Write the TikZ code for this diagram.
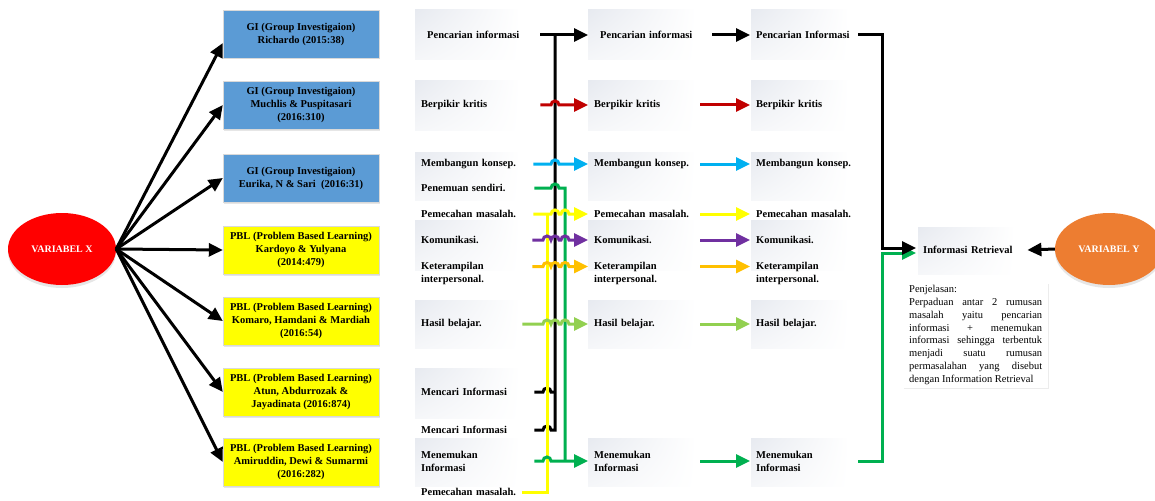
\documentclass[tikz,border=0pt]{standalone}
\usepackage{fontspec}
\setmainfont{Liberation Serif}
\usepackage{xcolor}
\usetikzlibrary{arrows.meta,shapes.geometric,shadows,shadings}
\definecolor{giblue}{HTML}{5B9BD5}
\definecolor{pblyellow}{HTML}{FFFF00}
\definecolor{varred}{HTML}{FF0000}
\definecolor{varorange}{HTML}{ED7D31}
\definecolor{lnred}{HTML}{C00000}
\definecolor{lncyan}{HTML}{00B0F0}
\definecolor{lngreen}{HTML}{00B050}
\definecolor{lnyellow}{HTML}{FFFF00}
\definecolor{lnpurple}{HTML}{7030A0}
\definecolor{lnorange}{HTML}{FFC000}
\definecolor{lnlime}{HTML}{92D050}
\definecolor{panel}{HTML}{E7EAF0}
\newcommand{\hop}{arc[start angle=180,end angle=0,radius=4pt]}

\begin{document}
\begin{tikzpicture}[x=1pt,y=-1pt]
\tikzset{every node/.style={font=\fontsize{10.5}{13}\selectfont\bfseries}}
\tikzset{var/.style={ellipse,minimum width=108pt,minimum height=72pt,text=white,font=\fontsize{10}{12}\selectfont\bfseries,drop shadow={opacity=0.2,shadow xshift=0pt,shadow yshift=-3pt}}}
\tikzset{study/.style={draw=gray!30,minimum width=156pt,minimum height=48pt,inner sep=1pt,align=center,drop shadow={opacity=0.2,shadow xshift=1pt,shadow yshift=-1.5pt}}}
\tikzset{item/.style={anchor=west,inner xsep=6pt,inner ysep=1pt,align=left,text width=#1},item/.default=96pt}
\tikzset{wire/.style={line width=3pt}}
\tikzset{link/.style={wire,-{Triangle[length=14pt,width=13pt]}}}
\tikzset{pane/.style={upper left=panel,lower left=panel!40,upper right=white,lower right=white}}

\useasboundingbox (0,0) rectangle (1155,500);

\foreach \xa/\xb in {415/520,588/696,751/849}
  \foreach \ya/\yb in {10/60,81/130,152/200,220/270,300/348,438/486}
    \shade[pane] (\xa,\ya) rectangle (\xb,\yb);
\shade[pane] (415,368) rectangle (520,418);
\shade[pane] (918,227) rectangle (1015,274);

\node[var,fill=varred] (vx) at (62,249) {VARIABEL X};
\node[study,fill=giblue] (gi1) at (301,34) {GI (Group Investigaion)\\Richardo (2015:38)};
\node[study,fill=giblue] (gi2) at (301,105) {GI (Group Investigaion)\\Muchlis \& Puspitasari\\(2016:310)};
\node[study,fill=giblue] (gi3) at (301,178) {GI (Group Investigaion)\\Eurika, N \& Sari\ \ (2016:31)};
\node[study,fill=pblyellow] (pbl1) at (301,250) {PBL (Problem Based Learning)\\Kardoyo \& Yulyana\\(2014:479)};
\node[study,fill=pblyellow] (pbl2) at (301,321) {PBL (Problem Based Learning)\\Komaro, Hamdani \& Mardiah\\(2016:54)};
\node[study,fill=pblyellow] (pbl3) at (301,392) {PBL (Problem Based Learning)\\Atun, Abdurrozak \&\\Jayadinata (2016:874)};
\node[study,fill=pblyellow] (pbl4) at (301,462) {PBL (Problem Based Learning)\\Amiruddin, Dewi \& Sumarmi\\(2016:282)};

\draw[link] (vx.east) -- ([yshift=-9pt]gi1.west);
\draw[link] (vx.east) -- (gi2.west);
\draw[link] (vx.east) -- (gi3.west);
\draw[link] (vx.east) -- (pbl1.west);
\draw[link] (vx.east) -- (pbl2.west);
\draw[link] (vx.east) -- (pbl3.west);
\draw[link] (vx.east) -- (pbl4.west);

\node[item] (pc1) at (421,35) {Pencarian informasi};
\node[item] (bk1) at (415,105) {Berpikir kritis};
\node[item] (mk1) at (415,164) {Membangun konsep.};
\node[item] (ps1) at (415,188) {Penemuan sendiri.};
\node[item] (pm1) at (415,214) {Pemecahan masalah.};
\node[item] (ko1) at (415,240) {Komunikasi.};
\node[item] (ke1) at (415,273) {Keterampilan\\interpersonal.};
\node[item] (hb1) at (415,324) {Hasil belajar.};
\node[item] (mc1) at (415,392) {Mencari Informasi};
\node[item] (mc2) at (415,430) {Mencari Informasi};
\node[item] (mn1) at (415,461) {Menemukan\\Informasi};
\node[item] (pm9) at (415,492) {Pemecahan masalah.};

\node[item=100pt,inner xsep=12pt] (pc2) at (588,35) {Pencarian informasi};
\node[item=100pt] (bk2) at (588,105) {Berpikir kritis};
\node[item=100pt] (mk2) at (588,164) {Membangun konsep.};
\node[item=100pt] (pm2) at (588,214) {Pemecahan masalah.};
\node[item=100pt] (ko2) at (588,240) {Komunikasi.};
\node[item=100pt] (ke2) at (588,273) {Keterampilan\\interpersonal.};
\node[item=100pt] (hb2) at (588,324) {Hasil belajar.};
\node[item=100pt] (mn2) at (588,461) {Menemukan\\Informasi};

\node[item] (pc3) at (750,35) {Pencarian Informasi};
\node[item] (bk3) at (750,105) {Berpikir kritis};
\node[item] (mk3) at (750,164) {Membangun konsep.};
\node[item] (pm3) at (750,214) {Pemecahan masalah.};
\node[item] (ko3) at (750,240) {Komunikasi.};
\node[item] (ke3) at (750,273) {Keterampilan\\interpersonal.};
\node[item] (hb3) at (750,324) {Hasil belajar.};
\node[item] (mn3) at (750,461) {Menemukan\\Informasi};

\node[item=97pt,inner xsep=7pt] (ir) at (916,250) {Informasi Retrieval};
\node[var,fill=varorange] (vy) at (1109,249) {VARIABEL Y};
\node[anchor=north west,fill=white,inner xsep=6pt,inner ysep=3pt,text width=133pt,align=justify,font=\fontsize{10.5}{12.85}\selectfont,drop shadow={opacity=0.15,shadow xshift=1pt,shadow yshift=-1.5pt}] (note) at (903,282) {Penjelasan:\\Perpaduan antar 2 rumusan\linebreak masalah yaitu pencarian\linebreak informasi + menemukan\linebreak informasi sehingga terbentuk\linebreak menjadi suatu rumusan\linebreak permasalahan yang disebut\linebreak dengan Information Retrieval};

\coordinate (yx) at (547,0);
\coordinate (bx) at (555,0);
\coordinate (gx) at (565,0);

\draw[wire] ([xshift=11pt]mc2.east) -- (543,430) \hop -- (bx |- mc2.east) -- (bx |- pc1.east);
\draw[wire] ([xshift=11pt]mc1.east) -- (543,392) \hop -- (bx |- mc1.east);
\draw[wire,lngreen] ([xshift=11pt]ps1.east) -- (551,188) \hop -- (gx |- ps1.east) -- (gx |- mn1.east);
\draw[wire,lnyellow] ([xshift=-1pt]pm9.east) -- (yx |- pm9.east) -- (yx |- pm1.east);

\draw[link] ([xshift=11pt]pc1.east) -- (pc2.west);
\draw[link,lnred] ([xshift=17pt]bk1.east) -- (551,105) \hop -- (bk2.west);
\draw[link,lncyan] ([xshift=10pt]mk1.east) -- (551,164) \hop -- (mk2.west);
\draw[link,lnyellow] ([xshift=10pt]pm1.east) -- (551,214) \hop -- (561,214) \hop -- (pm2.west);
\draw[link,lnpurple] ([xshift=9pt]ko1.east) -- (543,240) \hop \hop -- (561,240) \hop -- (ko2.west);
\draw[link,lnorange] ([xshift=9pt,yshift=6.5pt]ke1.east) -- (543,266.5) \hop \hop -- (561,266.5) \hop -- ([yshift=6.5pt]ke2.west);
\draw[link,lnlime] ([xshift=-1pt]hb1.east) -- (543,324) \hop \hop -- (561,324) \hop -- (hb2.west);
\draw[link,lngreen] ([xshift=11pt]mn1.east) -- (543,461) \hop -- (mn2.west);

\draw[link] (pc2.east) -- (pc3.west);
\draw[link,lnred] (bk2.east) -- (bk3.west);
\draw[link,lncyan] (mk2.east) -- (mk3.west);
\draw[link,lnyellow] (pm2.east) -- (pm3.west);
\draw[link,lnpurple] (ko2.east) -- (ko3.west);
\draw[link,lnorange] ([yshift=6.5pt]ke2.east) -- ([yshift=6.5pt]ke3.west);
\draw[link,lnlime] (hb2.east) -- (hb3.west);
\draw[link,lngreen] (mn2.east) -- (mn3.west);

\draw[link,lngreen] (mn3.east) -- (882,461) -- (882,253) -- ([yshift=-3pt]ir.west);
\draw[link] (pc3.east) -- (882,35) -- (882,248) -- ([yshift=2pt]ir.west);
\draw[link] (vy.west) -- (ir.east);

\end{tikzpicture}
\end{document}
